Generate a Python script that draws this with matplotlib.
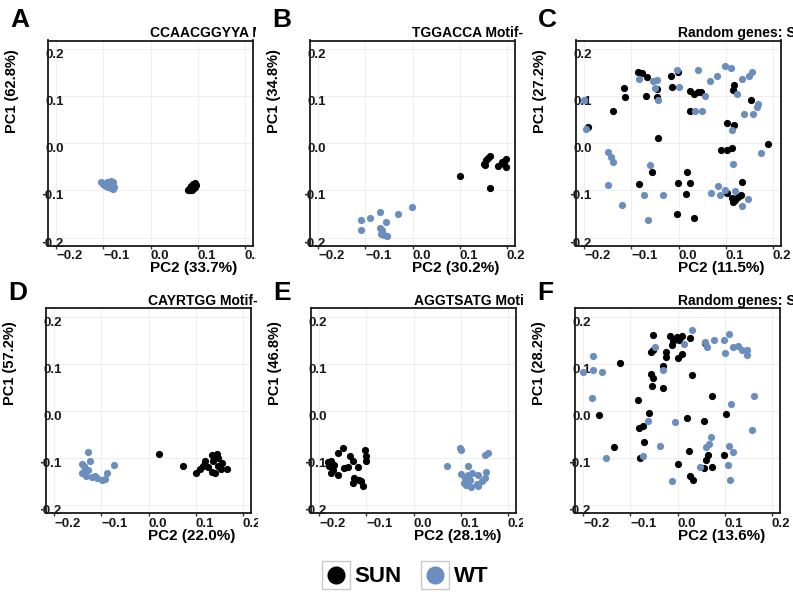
"""
PCA panels A-F: SUN vs WT samples for motif gene sets and random genes.
"""

import matplotlib
matplotlib.use("Agg")
import matplotlib.pyplot as plt
from matplotlib.lines import Line2D
from matplotlib.legend_handler import HandlerTuple
from matplotlib.transforms import Bbox, TransformedBbox

plt.rcParams["font.family"] = ["Liberation Sans", "DejaVu Sans"]
plt.rcParams["font.weight"] = "bold"

SUN_COLOR = "#000000"
WT_COLOR = "#6c8ebf"

# ---- data (x = PC2, y = PC1) ----
A_sun_pc2 = [0.080, 0.083, 0.087, 0.090, 0.094, 0.097, 0.092, 0.088, 0.085, 0.095, 0.082, 0.091]
A_sun_pc1 = [-0.098, -0.094, -0.090, -0.087, -0.085, -0.088, -0.094, -0.098, -0.100, -0.092, -0.096, -0.090]
A_wt_pc2 = [-0.105, -0.100, -0.095, -0.090, -0.085, -0.080, -0.078, -0.080, -0.085, -0.093, -0.098, -0.088]
A_wt_pc1 = [-0.083, -0.086, -0.090, -0.093, -0.095, -0.097, -0.092, -0.083, -0.080, -0.082, -0.088, -0.088]

B_sun_pc2 = [0.101, 0.152, 0.156, 0.161, 0.165, 0.155, 0.182, 0.191, 0.198, 0.198, 0.194, 0.164]
B_sun_pc1 = [-0.069, -0.043, -0.036, -0.030, -0.027, -0.046, -0.048, -0.039, -0.032, -0.050, -0.043, -0.095]
B_wt_pc2 = [-0.001, -0.031, -0.069, -0.056, -0.091, -0.109, -0.109, -0.069, -0.066, -0.061, -0.054, -0.064]
B_wt_pc1 = [-0.135, -0.150, -0.146, -0.168, -0.158, -0.162, -0.185, -0.179, -0.192, -0.194, -0.196, -0.185]

C_sun_pc2 = [-0.087, -0.078, -0.067, -0.116, -0.114, -0.139, -0.193, -0.069, -0.046, -0.046,
             -0.016, -0.014, -0.001, 0.024, 0.034, 0.041, 0.047, 0.024, -0.043, -0.083,
             -0.057, -0.002, 0.019, 0.025, 0.016, -0.004, 0.032, 0.090, 0.104, 0.114,
             0.104, 0.118, 0.119, 0.115, 0.154, 0.191, 0.134, 0.103, 0.114, 0.116,
             0.121, 0.127, 0.132]
C_sun_pc1 = [0.153, 0.149, 0.142, 0.117, 0.098, 0.068, 0.036, 0.102, 0.116, 0.098,
             0.144, 0.120, 0.151, 0.112, 0.105, 0.110, 0.110, 0.068, 0.011, -0.086,
             -0.061, -0.085, -0.060, -0.085, -0.107, -0.149, -0.159, -0.013, -0.013, -0.009,
             0.044, 0.039, 0.124, 0.114, 0.093, -0.001, -0.081, -0.105, -0.115, -0.125,
             -0.120, -0.114, -0.110]
C_wt_pc2 = [-0.200, -0.196, -0.151, -0.143, -0.139, -0.151, -0.121, -0.074, -0.064, -0.034,
            -0.060, -0.084, -0.055, -0.046, -0.051, -0.043, -0.003, 0.002, 0.041, 0.057,
            0.066, 0.082, 0.099, 0.111, 0.124, 0.136, 0.150, 0.156, 0.166, 0.169,
            0.159, 0.140, 0.114, 0.116, 0.176, 0.070, 0.083, 0.088, 0.099, 0.121,
            0.134, 0.147, 0.036, 0.049]
C_wt_pc1 = [0.093, 0.030, -0.018, -0.028, -0.039, -0.089, -0.130, -0.110, -0.162, -0.110,
            -0.045, 0.137, 0.132, 0.134, 0.117, 0.093, 0.157, 0.120, 0.157, 0.101,
            0.132, 0.144, 0.164, 0.160, 0.105, 0.137, 0.144, 0.151, 0.078, 0.084,
            0.063, 0.063, 0.028, -0.043, -0.021, -0.105, -0.091, -0.110, -0.100, -0.102,
            -0.132, -0.119, 0.069, 0.069]

D_sun_pc2 = [0.023, 0.073, 0.102, 0.109, 0.115, 0.120, 0.134, 0.145, 0.148, 0.138,
             0.134, 0.141, 0.155, 0.166, 0.148, 0.127, 0.157]
D_sun_pc1 = [-0.091, -0.116, -0.131, -0.124, -0.118, -0.107, -0.093, -0.091, -0.101, -0.107,
             -0.129, -0.132, -0.123, -0.123, -0.118, -0.120, -0.111]
D_wt_pc2 = [-0.129, -0.141, -0.125, -0.141, -0.136, -0.129, -0.120, -0.110, -0.099, -0.092,
            -0.088, -0.073, -0.133, -0.113, -0.138]
D_wt_pc1 = [-0.087, -0.112, -0.107, -0.132, -0.123, -0.125, -0.141, -0.143, -0.146, -0.145,
            -0.132, -0.114, -0.139, -0.139, -0.118]

E_sun_pc2 = [-0.149, -0.160, -0.103, -0.101, -0.101, -0.135, -0.129, -0.176, -0.179, -0.172,
             -0.176, -0.160, -0.147, -0.140, -0.119, -0.126, -0.129, -0.115, -0.107, -0.112,
             -0.169, -0.181]
E_sun_pc1 = [-0.079, -0.089, -0.082, -0.096, -0.106, -0.096, -0.107, -0.107, -0.118, -0.125,
             -0.132, -0.136, -0.121, -0.120, -0.120, -0.143, -0.154, -0.146, -0.159, -0.150,
             -0.114, -0.109]
E_wt_pc2 = [0.098, 0.102, 0.072, 0.116, 0.100, 0.152, 0.159, 0.155, 0.152, 0.138,
            0.125, 0.116, 0.109, 0.112, 0.123, 0.134, 0.145, 0.120, 0.137, 0.107]
E_wt_pc1 = [-0.079, -0.082, -0.118, -0.118, -0.134, -0.093, -0.089, -0.129, -0.143, -0.136,
            -0.132, -0.136, -0.143, -0.157, -0.161, -0.156, -0.150, -0.146, -0.159, -0.154]

F_sun_pc2 = [-0.123, -0.167, -0.136, -0.080, -0.083, -0.081, -0.074, -0.071, -0.061, -0.057,
             -0.055, -0.053, -0.031, -0.053, -0.053, -0.057, -0.024, -0.024, -0.030, -0.017,
             -0.009, -0.011, -0.001, 0.009, 0.026, 0.004, 0.009, 0.000, 0.031, 0.059,
             0.073, 0.104, 0.020, 0.057, 0.025, 0.000, 0.027, 0.033, 0.065, 0.060,
             0.056, 0.073, 0.098]
F_sun_pc1 = [0.101, -0.009, -0.077, -0.100, 0.024, -0.036, -0.032, -0.066, -0.004, 0.079,
             0.054, 0.070, 0.048, 0.161, 0.129, 0.125, 0.125, 0.114, 0.096, 0.159,
             0.149, 0.141, 0.157, 0.159, 0.156, 0.150, 0.121, 0.113, 0.077, 0.144,
             0.032, -0.006, -0.016, -0.021, -0.086, -0.113, -0.139, -0.146, -0.093, -0.104,
             -0.121, -0.120, -0.093]
F_wt_pc2 = [-0.200, -0.180, -0.180, -0.160, -0.182, -0.153, -0.074, -0.063, -0.038, -0.048,
            -0.031, -0.005, -0.011, 0.013, 0.031, 0.048, 0.060, 0.066, 0.071, 0.063,
            0.059, 0.078, 0.098, 0.110, 0.102, 0.118, 0.129, 0.138, 0.148, 0.148,
            0.114, 0.163, 0.159, 0.109, 0.118, 0.108, 0.111]
F_wt_pc1 = [0.082, 0.116, 0.087, 0.082, 0.027, -0.101, -0.096, -0.021, -0.074, 0.136,
            0.087, -0.023, -0.150, 0.143, 0.173, -0.120, -0.077, -0.070, -0.056, 0.136,
            0.146, 0.151, 0.151, 0.164, 0.123, 0.136, 0.139, 0.129, 0.130, 0.120,
            0.014, 0.031, -0.041, -0.075, -0.088, -0.114, -0.146]

sun_pc2 = [A_sun_pc2, B_sun_pc2, C_sun_pc2, D_sun_pc2, E_sun_pc2, F_sun_pc2]
sun_pc1 = [A_sun_pc1, B_sun_pc1, C_sun_pc1, D_sun_pc1, E_sun_pc1, F_sun_pc1]
wt_pc2 = [A_wt_pc2, B_wt_pc2, C_wt_pc2, D_wt_pc2, E_wt_pc2, F_wt_pc2]
wt_pc1 = [A_wt_pc1, B_wt_pc1, C_wt_pc1, D_wt_pc1, E_wt_pc1, F_wt_pc1]

panel_letters = ["A", "B", "C", "D", "E", "F"]
titles = ["CCAACGGYYA Motif-", "TGGACCA Motif-", "Random genes: S",
          "CAYRTGG Motif-", "AGGTSATG Motif-", "Random genes: S"]
pc2_labels = ["PC2 (33.7%)", "PC2 (30.2%)", "PC2 (11.5%)",
              "PC2 (22.0%)", "PC2 (28.1%)", "PC2 (13.6%)"]
pc1_labels = ["PC1 (62.8%)", "PC1 (34.8%)", "PC1 (27.2%)",
              "PC1 (57.2%)", "PC1 (46.8%)", "PC1 (28.2%)"]
tick_values = [-0.2, -0.1, 0.0, 0.1, 0.2]
tick_labels = ["\u22120.2", "\u22120.1", "0.0", "0.1", "0.2"]

# ---- layout (pixels from top-left of the 793x595 canvas) ----
W, H = 793, 595
SIZE = 205
panel_left = [48, 310, 576, 46, 311, 575]
panel_top = [40.5, 40.5, 40.5, 308, 308, 308]
letter_top = [8, 8, 8, 281, 281, 281]
clip_right = [256, 524, 793, 258, 523, 793]
ylabel_y = [0.755, 0.755, 0.755, 0.73, 0.73, 0.73]

fig = plt.figure(figsize=(W / 100, H / 100), dpi=100)


def px_box(x0, y0, x1, y1):
    """Pixel box (top-left origin) -> display-space bbox."""
    return TransformedBbox(Bbox([[x0 / W, 1 - y1 / H], [x1 / W, 1 - y0 / H]]),
                           fig.transFigure)


for i in range(6):
    left, top = panel_left[i], panel_top[i]
    ax = fig.add_axes([left / W, 1 - (top + SIZE) / H, SIZE / W, SIZE / H])
    ax.scatter(sun_pc2[i], sun_pc1[i], s=27, color=SUN_COLOR, linewidths=0, zorder=3)
    ax.scatter(wt_pc2[i], wt_pc1[i], s=27, color=WT_COLOR, linewidths=0, zorder=3)

    ax.set_xlim(-0.218, 0.218)
    ax.set_ylim(-0.217, 0.219)
    ax.set_xticks(tick_values, tick_labels)
    ax.set_yticks(tick_values, tick_labels)
    ax.grid(True, color="#ebebeb", linewidth=0.6)
    ax.set_axisbelow(True)
    for sp in ax.spines.values():
        sp.set_linewidth(1.3)
        sp.set_color("#1a1a1a")

    ax.tick_params(axis="x", length=2.5, width=1, pad=1.0, labelsize=9.5,
                   color="#333333", labelcolor="#1a1a1a")
    ax.tick_params(axis="y", length=0, pad=-11.5, labelsize=9.5, labelcolor="#1a1a1a")

    clip = px_box(left - 5, 0, clip_right[i], H)
    for lab in ax.get_xticklabels():
        lab.set_ha("left")
        lab.set_clip_box(clip)
        lab.set_clip_on(True)
    for lab in ax.get_yticklabels():
        lab.set_va("top")
        lab.set_clip_box(clip)
        lab.set_clip_on(True)

    ax.set_xlabel(pc2_labels[i], fontsize=11, fontweight="bold")
    ax.xaxis.set_label_coords(0.5, -0.078)
    ax.xaxis.label.set_ha("left")
    ax.set_ylabel(pc1_labels[i], fontsize=10.5, fontweight="bold")
    ax.yaxis.set_label_coords(-0.142, ylabel_y[i])

    t = fig.text(0.5, 1.016, titles[i], transform=ax.transAxes, ha="left",
                 va="baseline", fontsize=10, fontweight="bold")
    t.set_clip_box(clip)
    t.set_clip_on(True)

    fig.text((left - 38) / W, 1 - letter_top[i] / H, panel_letters[i], fontsize=19,
             fontweight="bold", ha="left", va="top")

# legend with a grey key box behind each dot
key_box = Line2D([], [], ls="none", marker="s", markersize=20, markerfacecolor="white",
                 markeredgecolor="#c9c9c9", markeredgewidth=1)
sun_dot = Line2D([], [], ls="none", marker="o", markersize=12, color=SUN_COLOR)
wt_dot = Line2D([], [], ls="none", marker="o", markersize=12, color=WT_COLOR)
fig.legend([(key_box, sun_dot), (key_box, wt_dot)], ["SUN", "WT"],
           handler_map={tuple: HandlerTuple(ndivide=1)},
           loc="center", bbox_to_anchor=(405 / W, 1 - 577 / H), ncol=2, frameon=False,
           prop={"size": 16, "weight": "bold"}, handlelength=1.3, handletextpad=0.17,
           columnspacing=0.88, borderpad=0, borderaxespad=0)

fig.savefig("out.png", dpi=100)
